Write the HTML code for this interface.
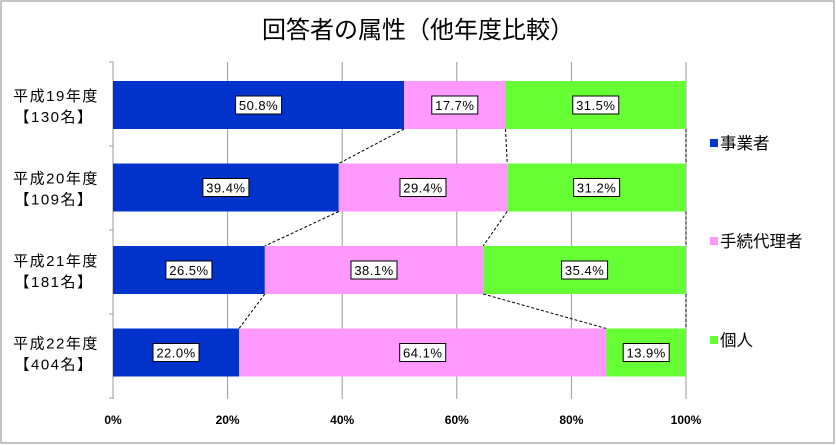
<!DOCTYPE html>
<html><head><meta charset="utf-8"><style>
html,body{margin:0;padding:0;background:#fff;}
svg{display:block;font-family:"Liberation Sans","Noto Sans CJK JP",sans-serif;}
</style></head><body>
<svg id="c" width="836" height="445" viewBox="0 0 836 445">
<rect x="1" y="1" width="833" height="442" fill="#fff" stroke="#888" stroke-width="1"/>
<text x="418" y="38" text-anchor="middle" font-size="24" fill="#000">回答者の属性（他年度比較）</text>
<g id="grid"></g><g id="bars"></g><g id="labels"></g><g id="legend"></g>
</svg>
<script>
const categories=["平成19年度","平成20年度","平成21年度","平成22年度"];
const counts=["【130名】","【109名】","【181名】","【404名】"];
const seriesNames=["事業者","手続代理者","個人"];
const jigyosha=[50.8,39.4,26.5,22.0];
const tetsuzuki=[17.7,29.4,38.1,64.1];
const kojin=[31.5,31.2,35.4,13.9];
const ticks=[0,20,40,60,80,100];
const colors=["#0033CC","#FF99FF","#66FF33"];
const NS="http://www.w3.org/2000/svg";
const L=113,R=686,T=62,B=398,band=82.5,bh=48;
const xs=v=>L+(R-L)*v/100;
const yc=i=>105+band*i;
function mk(tag,a,p){const e=document.createElementNS(NS,tag);for(const k in a)e.setAttribute(k,a[k]);p.appendChild(e);return e;}
const g=document.getElementById('grid'),gb=document.getElementById('bars'),gl=document.getElementById('labels'),lg=document.getElementById('legend');
ticks.forEach(t=>{
 const l=mk('line',{x1:xs(t),x2:xs(t),y1:T,y2:B+1,stroke:'#999','stroke-width':1},g);
 
 
 const tx=mk('text',{x:xs(t),y:424,'text-anchor':'middle','font-size':12,'font-weight':'bold'},g);
 tx.textContent=t+'%';
 
 
});
const ax=mk('line',{x1:L,x2:L,y1:T,y2:B,stroke:'#999'},g);


for(let i=0;i<=categories.length;i++){const tk=mk('line',{x1:L-4,x2:L,y1:T+(B-T)/4*i,y2:T+(B-T)/4*i,stroke:'#999'},g);
 
 }
const series=[jigyosha,tetsuzuki,kojin];
categories.forEach((c,i)=>{
 let acc=0;const y=yc(i)-bh/2;
 series.forEach((s,j)=>{
  const x0=xs(acc),x1=xs(acc+s[i]);
  const r=mk('rect',{x:x0,y:y,width:x1-x0,height:bh,fill:colors[j]},gb);
  
  
  const lbl=s[i].toFixed(1)+'%';const cx=(x0+x1)/2,w=lbl.length*8+6;
  const bx=mk('rect',{x:cx-w/2,y:yc(i)-9,width:w,height:18,fill:'#fff',stroke:'#000','stroke-width':1},gl);
  
  
  const t=mk('text',{x:cx,y:yc(i)+5,'text-anchor':'middle','font-size':13,'letter-spacing':'0.5'},gl);
  t.textContent=lbl;
  
  
  acc+=s[i];
 });
 const t1=mk('text',{x:56,y:yc(i)-4,'text-anchor':'middle','font-size':15,'letter-spacing':'1.5'},gl);t1.textContent=c;
 
 
 const t2=mk('text',{x:54,y:yc(i)+17,'text-anchor':'middle','font-size':15,'letter-spacing':'1.5'},gl);t2.textContent=counts[i];
 
 
 if(i<categories.length-1){
  let a=0,b=0;
  [jigyosha,tetsuzuki].forEach((s)=>{a+=s[i];b+=s[i+1];
   const d=mk('line',{x1:xs(a),y1:yc(i)+bh/2,x2:xs(b),y2:yc(i+1)-bh/2,stroke:'#000','stroke-dasharray':'3,2','stroke-width':1},gb);
   
   });
  const d=mk('line',{x1:xs(100),y1:yc(i)+bh/2,x2:xs(100),y2:yc(i+1)-bh/2,stroke:'#000','stroke-dasharray':'3,2'},gb);
  
  
 }
});
const ly=[143,241,340];
seriesNames.forEach((n,j)=>{
 const r=mk('rect',{x:710,y:ly[j]-4,width:8,height:8,fill:colors[j]},lg);
 
 
 const t=mk('text',{x:720,y:ly[j]+6,'font-size':16.5},lg);t.textContent=n;
 
 
});
</script>
</body></html>
